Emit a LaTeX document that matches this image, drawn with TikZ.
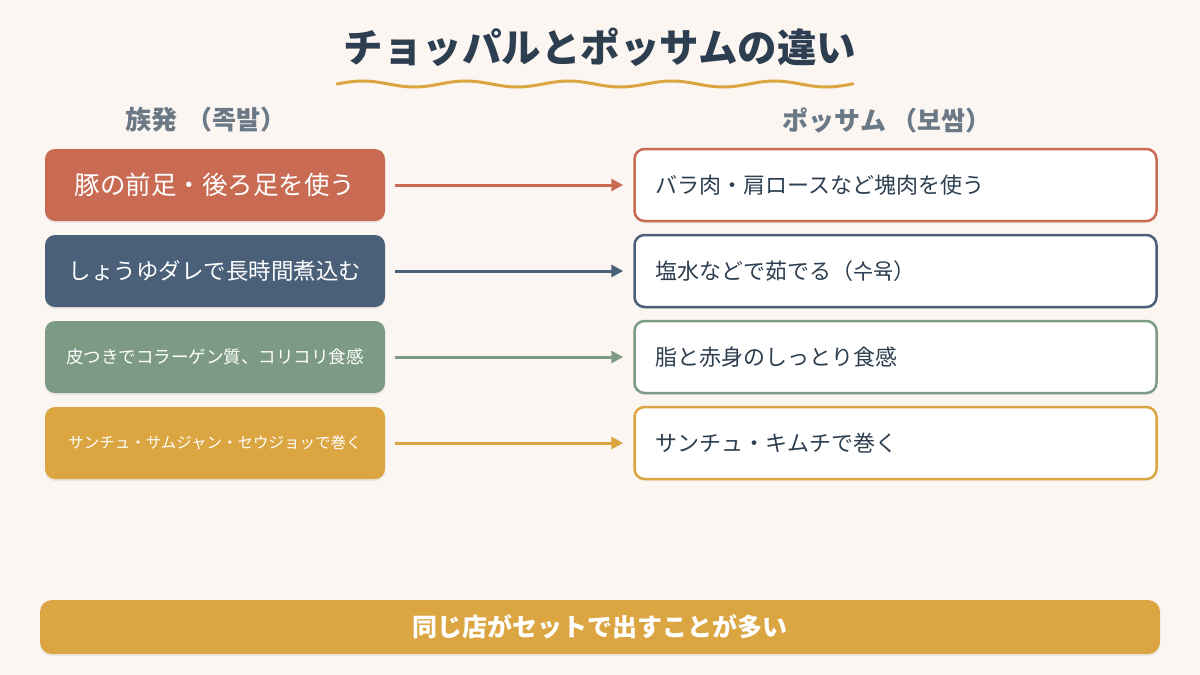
\documentclass[tikz,border=0pt]{standalone}
\usepackage{fontspec}
\setmainfont{Noto Sans CJK JP}
\usetikzlibrary{arrows.meta,shadows}
\definecolor{bg}{HTML}{FBF6F1}
\definecolor{ink}{HTML}{2C3E50}
\definecolor{hdr}{HTML}{6B7886}
\definecolor{cred}{HTML}{C96B52}
\definecolor{cnavy}{HTML}{4A5F78}
\definecolor{cgreen}{HTML}{7D9B84}
\definecolor{cgold}{HTML}{DBA541}
\tikzset{
  lbox/.style={rectangle, rounded corners=10pt, minimum width=340pt, minimum height=72pt, text=white, inner sep=0pt,
    drop shadow={shadow xshift=0pt, shadow yshift=-2pt, opacity=0.12}},
  rbox/.style={rectangle, rounded corners=10pt, minimum width=521pt, minimum height=72pt, fill=white, line width=2.5pt,
    text width=480pt, align=left, inner xsep=21pt, text=ink, font=\fontsize{22pt}{26pt}\selectfont,
    drop shadow={shadow xshift=0pt, shadow yshift=-2pt, opacity=0.08}},
  arr/.style={line width=3pt, -{Triangle[length=12pt,width=12pt]}, shorten <=10pt, shorten >=10pt},
  hd/.style={text=hdr, font=\bfseries\fontsize{26pt}{30pt}\selectfont}
}
\begin{document}
\begin{tikzpicture}[x=1pt,y=-1pt]
\fill[bg] (0,0) rectangle (1200,675);
\useasboundingbox (0,0) rectangle (1200,675);
% title
\node[text=ink, font=\bfseries\fontsize{39.5pt}{46pt}\selectfont] (title) at (600,47) {チョッパルとポッサムの違い};
\draw[cgold, line width=3pt, line cap=round] plot[domain=0:516, samples=200] ({337+\x}, {84 - 3*sin(\x*3.495)});
% headers
\node[hd] (hl) at (206,120) {族発\hspace{0.35em}（족발）};
\node[hd] (hr) at (887,120) {ポッサム\hspace{0.2em}（보쌈）};
% left boxes
\node[lbox, fill=cred, font=\fontsize{25.5pt}{29pt}\selectfont] (l1) at (215,185) {豚の前足・後ろ足を使う};
\node[lbox, fill=cnavy, font=\fontsize{22.5pt}{26pt}\selectfont] (l2) at (215,271) {しょうゆダレで長時間煮込む};
\node[lbox, fill=cgreen, font=\fontsize{17.5pt}{21pt}\selectfont] (l3) at (215,357) {皮つきでコラーゲン質、コリコリ食感};
\node[lbox, fill=cgold, font=\fontsize{15.5pt}{19pt}\selectfont] (l4) at (215,443) {サンチュ・サムジャン・セウジョッで巻く};
% right boxes
\node[rbox, draw=cred] (r1) at (895.5,185) {バラ肉・肩ロースなど塊肉を使う};
\node[rbox, draw=cnavy] (r2) at (895.5,271) {塩水などで茹でる（수육）};
\node[rbox, draw=cgreen] (r3) at (895.5,357) {脂と赤身のしっとり食感};
\node[rbox, draw=cgold] (r4) at (895.5,443) {サンチュ・キムチで巻く};
% arrows
\draw[arr, cred] (l1) -- (r1);
\draw[arr, cnavy] (l2) -- (r2);
\draw[arr, cgreen] (l3) -- (r3);
\draw[arr, cgold] (l4) -- (r4);
% bottom bar
\node[rectangle, rounded corners=12pt, fill=cgold, minimum width=1120pt, minimum height=54pt, text=white,
  font=\bfseries\fontsize{25pt}{29pt}\selectfont, drop shadow={shadow xshift=0pt, shadow yshift=-2pt, opacity=0.12}] (bar) at (600,627) {同じ店がセットで出すことが多い};
\end{tikzpicture}
\end{document}
